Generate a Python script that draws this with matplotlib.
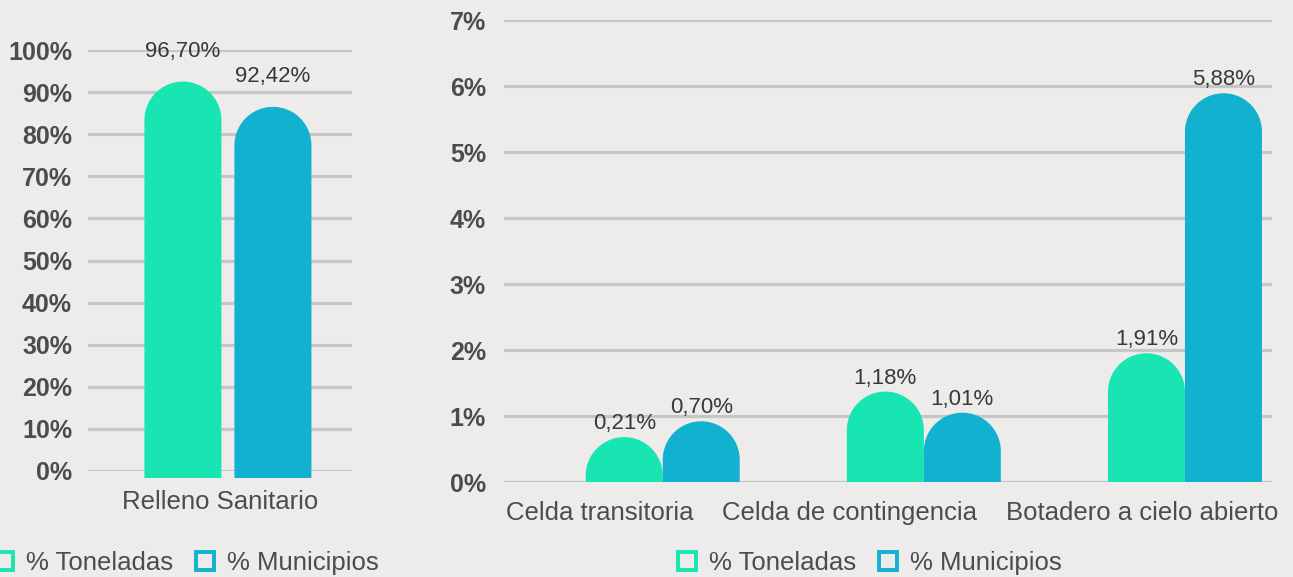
import matplotlib.pyplot as plt
from matplotlib.patches import Polygon
from matplotlib.lines import Line2D
from matplotlib.transforms import offset_copy
import numpy as np

plt.rcParams['font.family'] = ['Liberation Sans', 'DejaVu Sans']

# datos: etiquetas y alturas de las barras
cat_izq = ['Relleno Sanitario']
toneladas_izq = [96.70]
municipios_izq = [92.42]
alto_toneladas_izq = [92.5]
alto_municipios_izq = [86.5]

cat_der = ['Celda transitoria', 'Celda de contingencia', 'Botadero a cielo abierto']
toneladas_der = [0.21, 1.18, 1.91]
municipios_der = [0.70, 1.01, 5.88]
alto_toneladas_der = [0.68, 1.37, 1.95]
alto_municipios_der = [0.92, 1.05, 5.89]

ticks_izq = list(range(0, 101, 10))
ticks_der = list(range(0, 8))

verde = '#19E5B2'
azul = '#13B1D0'
texto = '#4c4c4c'
rejilla = '#c6c6c6'
fondo = '#edecea'

W, H = 1293, 577
fig = plt.figure(figsize=(W / 100, H / 100), dpi=100, facecolor=fondo)

ax1 = fig.add_axes([88 / W, (H - 471) / H, 264 / W, 421 / H])
ax2 = fig.add_axes([504 / W, (H - 482) / H, 768 / W, 462 / H])


def fmt(v):
    return f'{v:.2f}%'.replace('.', ',')


def capsula(ax, x, alto, ancho, color, abajo_px=0):
    # barra con tapa redonda (semi-elipse en datos = semicirculo en pantalla)
    pos = ax.get_position()
    y0, y1 = ax.get_ylim()
    x0, x1 = ax.get_xlim()
    px_y = pos.height * H / (y1 - y0)
    px_x = pos.width * W / (x1 - x0)
    ry = (ancho * px_x / 2) / px_y
    base = -abajo_px / px_y
    t = np.linspace(0, np.pi, 80)
    arco = np.column_stack([x + ancho / 2 * np.cos(t), alto - ry + ry * np.sin(t)])
    pts = np.vstack([[x + ancho / 2, base], arco, [x - ancho / 2, base]])
    ax.add_patch(Polygon(pts, closed=True, facecolor=color, edgecolor='none',
                         clip_on=False, zorder=3))


def estilo(ax, ticks, pad):
    ax.set_facecolor('none')
    for s in ax.spines.values():
        s.set_visible(False)
    ax.set_yticks(ticks)
    ax.set_yticklabels([f'{t}%' for t in ticks], fontsize=18,
                       fontweight='bold', color=texto)
    ax.tick_params(axis='y', length=0, pad=pad)
    ax.set_xticks([])
    ax.grid(axis='y', color=rejilla, linewidth=2.3, zorder=0)
    ax.set_axisbelow(True)


# panel izquierdo
ax1.set_xlim(-0.5, 0.5)
ax1.set_ylim(0, 100)
estilo(ax1, ticks_izq, 11.5)
ancho1 = 77 / 264
sep1 = 90 / 264
for i, c in enumerate(cat_izq):
    xc = i + 0.03
    capsula(ax1, xc - sep1 / 2, alto_toneladas_izq[i], ancho1, verde, abajo_px=7)
    capsula(ax1, xc + sep1 / 2, alto_municipios_izq[i], ancho1, azul, abajo_px=7)
    for dx, alto, val in [(-sep1 / 2, alto_toneladas_izq[i], toneladas_izq[i]),
                          (sep1 / 2, alto_municipios_izq[i], municipios_izq[i])]:
        tr = offset_copy(ax1.transData, fig=fig, y=30, units='dots')
        ax1.text(xc + dx, alto, fmt(val), transform=tr, ha='center',
                 va='center', fontsize=16, color='#383838')
    tr = offset_copy(ax1.transData, fig=fig, y=-31, units='dots')
    ax1.text(i, 0, c, transform=tr, ha='center', va='center',
             fontsize=18.5, color=texto)

# panel derecho
ax2.set_xlim(-0.5, 2.5)
ax2.set_ylim(0, 7)
estilo(ax2, ticks_der, 13)
ancho2 = 77 / 256
for i, c in enumerate(cat_der):
    xc = i * 1.02 + 0.12
    capsula(ax2, xc - ancho2 / 2, alto_toneladas_der[i], ancho2, verde)
    capsula(ax2, xc + ancho2 / 2, alto_municipios_der[i], ancho2, azul)
    for dx, alto, val in [(-ancho2 / 2, alto_toneladas_der[i], toneladas_der[i]),
                          (ancho2 / 2, alto_municipios_der[i], municipios_der[i])]:
        tr = offset_copy(ax2.transData, fig=fig, y=13.5, units='dots')
        ax2.text(xc + dx, alto, fmt(val), transform=tr, ha='center',
                 va='center', fontsize=16, color='#383838')

# etiquetas de categoria repartidas a lo ancho del eje
tr = offset_copy(ax2.transAxes, fig=fig, y=-31, units='dots')
t_ini = ax2.text(0.003, 0, cat_der[0], transform=tr, ha='left', va='center',
                 fontsize=18.5, color=texto)
t_fin = ax2.text(1.008, 0, cat_der[2], transform=tr, ha='right', va='center',
                 fontsize=18.5, color=texto)
fig.canvas.draw()
r = fig.canvas.get_renderer()
e1 = t_ini.get_window_extent(r)
e3 = t_fin.get_window_extent(r)
medio_px = (e1.x1 + e3.x0) / 2
medio = ax2.transAxes.inverted().transform((medio_px, 0))[0]
ax2.text(medio, 0, cat_der[1], transform=tr, ha='center', va='center',
         fontsize=18.5, color=texto)

# leyendas
handles = [Line2D([], [], linestyle='none', marker='s', markersize=12.5,
                  markerfacecolor=fondo, markeredgecolor=col, markeredgewidth=2.8)
           for col in (verde, azul)]
for xc in (0.144, 0.6725):
    fig.legend(handles, ['% Toneladas', '% Municipios'], loc='center',
               bbox_to_anchor=(xc, 1 - 563 / H), ncol=2, frameon=False,
               fontsize=18.5, labelcolor=texto, handlelength=0.8,
               handletextpad=0.45, columnspacing=0.85, borderpad=0)

fig.savefig('out.png', dpi=100, facecolor=fondo)
